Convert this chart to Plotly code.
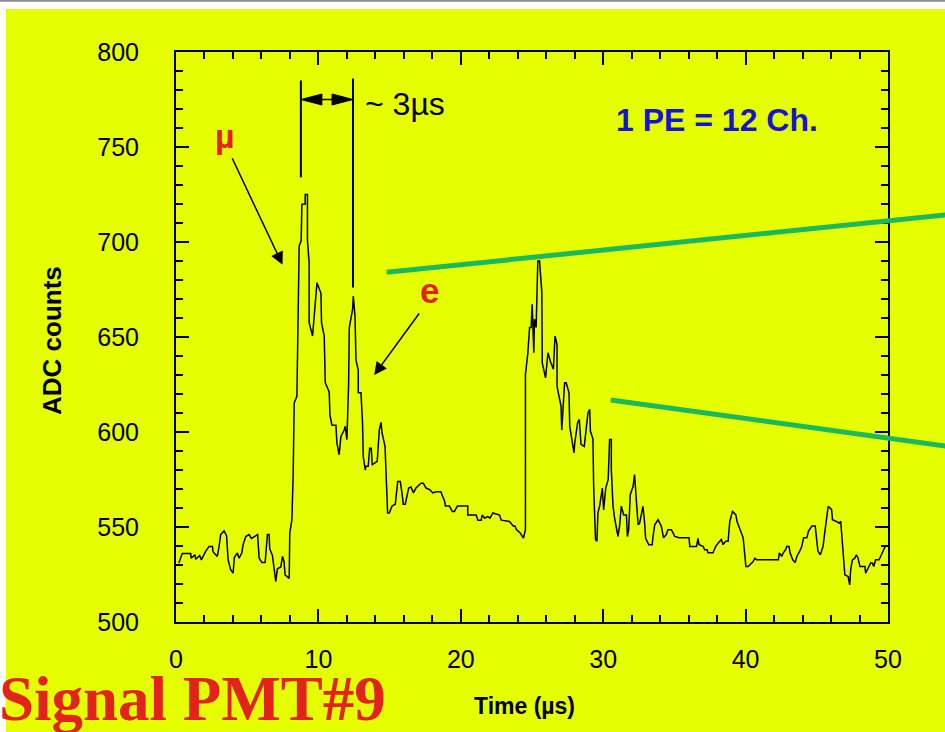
import plotly.graph_objects as go

# ---------------- data ----------------
time_us = [0.2, 0.44, 0.73, 1.03, 1.06, 1.34, 1.38, 1.66, 1.78, 1.9, 2.08, 2.32, 2.56, 2.6, 2.9, 3.0,
           3.14, 3.37, 3.55, 3.66, 3.84, 4.01, 4.1, 4.31, 4.43, 4.62, 4.71, 4.9, 5.13, 5.3, 5.56, 5.73,
           5.84, 6.03, 6.26, 6.36, 6.42, 6.54, 6.58, 6.77, 6.89, 7.01, 7.12, 7.36, 7.48, 7.59, 7.66, 7.95,
           7.99, 8.14, 8.23, 8.3, 8.49, 8.53, 8.61, 8.65, 8.79, 8.84, 9.07, 9.07, 9.23, 9.23, 9.35, 9.35,
           9.59, 9.66, 9.77, 9.9, 10.18, 10.22, 10.41, 10.48, 10.76, 10.81, 10.95, 11.23, 11.3, 11.46,
           11.58, 11.7, 11.81, 11.88, 12.0, 12.12, 12.17, 12.4, 12.45, 12.57, 12.64, 12.8, 12.8, 12.99,
           13.1, 13.15, 13.29, 13.34, 13.5, 13.6, 13.71, 13.78, 13.94, 14.13, 14.28, 14.4, 14.47, 14.68,
           14.86, 14.98, 15.17, 15.4, 15.57, 15.75, 15.87, 15.96, 16.1, 16.34, 16.5, 16.67, 16.85, 17.09,
           17.2, 17.37, 17.56, 17.84, 18.03, 18.26, 18.6, 18.73, 18.85, 18.92, 19.2, 19.4, 19.55, 19.76,
           20.49, 20.49, 21.08, 21.2, 21.43, 21.5, 21.67, 21.9, 22.05, 22.25, 22.72, 22.84, 23.42, 23.68,
           23.8, 23.91, 24.15, 24.4, 24.54, 24.54, 24.71, 24.83, 24.94, 25.01, 25.13, 25.17, 25.29, 25.41,
           25.53, 25.69, 25.72, 25.95, 26.12, 26.3, 26.5, 26.62, 26.76, 26.76, 27.04, 27.09, 27.29, 27.4,
           27.6, 27.65, 27.84, 27.95, 28.0, 28.2, 28.32, 28.44, 28.67, 28.79, 28.93, 29.05, 29.1, 29.28,
           29.33, 29.46, 29.56, 29.63, 29.75, 29.94, 30.03, 30.18, 30.35, 30.45, 30.57, 30.57, 30.69, 30.8,
           30.97, 31.04, 31.16, 31.27, 31.44, 31.63, 31.7, 31.79, 31.9, 32.1, 32.2, 32.33, 32.45, 32.56,
           32.79, 32.91, 32.98, 33.2, 33.44, 33.5, 33.62, 33.85, 34.08, 34.24, 34.43, 34.55, 34.78, 34.9,
           35.02, 35.33, 36.03, 36.08, 36.55, 36.66, 36.73, 37.01, 37.13, 37.3, 37.36, 37.71, 37.9, 38.07,
           38.3, 38.42, 38.6, 38.77, 38.89, 39.08, 39.31, 39.4, 39.59, 39.83, 40.02, 40.18, 40.53, 40.65,
           40.77, 42.3, 42.37, 42.53, 42.65, 42.82, 42.89, 43.05, 43.12, 43.31, 43.48, 43.6, 43.79, 43.95,
           44.07, 44.3, 44.42, 44.66, 44.89, 44.96, 45.08, 45.25, 45.44, 45.6, 45.72, 45.8, 46.04, 46.1,
           46.38, 46.57, 46.68, 46.79, 46.97, 47.2, 47.31, 47.38, 47.5, 47.67, 47.78, 47.9, 48.03, 48.38,
           48.43, 48.66, 48.78, 48.9, 49.0, 49.13, 49.37, 49.48, 49.8, 49.86]

adc_counts = [531, 536, 536, 536, 533.6, 535.4, 533, 535, 532.7, 534.5, 537.2, 539.8, 539.8, 537, 534.5, 538.6,
              546, 548, 545.5, 532.7, 527.5, 525.7, 534, 536.3, 533.6, 536.3, 540.6, 545, 546, 544, 545, 546,
              533.6, 531.3, 531.3, 538.6, 546, 546, 538.6, 535, 528, 521.3, 528, 529, 534.5, 531.6, 524.8, 523,
              546.8, 553.8, 578.4, 615.3, 618.8, 647, 668, 697.9, 700.6, 719.9, 720, 725, 725, 701, 689, 657.5,
              650.5, 657.5, 666, 678.6, 673, 657.5, 650.5, 626, 621, 609, 603.6, 603.6, 594.3, 588,
              597.7, 599.5, 601, 603, 596, 624.6, 655, 664.5, 671.6, 661, 638, 632.5, 620.6, 620.6,
              604.8, 587, 580, 582, 582, 591.4, 591.4, 582.8, 583.6, 584.5, 601.3, 605, 599.5, 592.4,
              557.4, 557.4, 561, 562, 574, 574, 568, 562, 562, 570.5, 571, 568, 570.5, 572.3,
              573, 573, 570.5, 569.6, 567.9, 568.5, 568.5, 566, 564, 561, 561, 558.2, 558.2, 561,
              561, 556.3, 556.3, 553.6, 553.6, 556.3, 554.7, 555.5, 554.7, 557.4, 556.3, 553.6, 552.9, 550.5,
              550.5, 548.6, 547, 544.2, 548.6, 630.3, 641.7, 655, 655, 667.2, 641.7, 659.4, 655, 690,
              690, 673.5, 636.4, 628.5, 641.7, 637, 633, 650.5, 646, 624, 613.5, 601, 625.9, 625.9,
              620.6, 603, 592.4, 589, 594, 604.8, 606.6, 593.5, 592.4, 599.5, 610, 612, 600.5, 596.3,
              571.4, 543.3, 542.5, 557.5, 561, 570.5, 559, 570.5, 575, 596, 596, 580.2, 561, 554.7,
              546.9, 545, 551.2, 561, 556.3, 556.3, 545, 548.6, 567, 571.4, 577.6, 562.6, 551.2, 552,
              560.9, 552, 544, 540.7, 540.7, 545, 551.2, 553.8, 550.5, 544.3, 546, 548.6, 548.6, 547,
              545, 544.3, 544.3, 539.8, 539.8, 544, 540.7, 539.8, 538, 538, 536.4, 536.4, 539.8, 541.5,
              543.4, 540.7, 542.5, 542.5, 552.9, 558.2, 556.5, 552.9, 549.4, 544.3, 529.2, 529.2, 531.8, 533.6,
              532.7, 532.7, 536.4, 534.5, 536.4, 538.2, 539.8, 539.8, 536.4, 532.7, 531.3, 534.5, 537.2, 539.8,
              544.3, 544.3, 547.9, 550.5, 550.5, 544.3, 537.2, 535.4, 539.8, 549.4, 556.5, 560.9, 559.1, 553.8,
              552.9, 552, 553, 540.7, 524.8, 523.9, 519.5, 527.5, 532.7, 533.6, 535.4, 533.6, 529.2, 529.2,
              525.7, 529.2, 531, 531, 529.2, 532.7, 532.7, 534.5, 539.8, 539.8]

x_ticks = [0, 10, 20, 30, 40, 50]
y_ticks = [500, 550, 600, 650, 700, 750, 800]

# annotation anchors (data units)
mu_arrow_tip = (7.48, 688)
e_arrow_tip = (13.92, 630)
marker_left_x, marker_right_x = 8.77, 12.43
marker_left_y = (734, 785)
marker_right_y = (676, 786)
marker_arrow_y = 775

# ---------------- layout constants ----------------
W, H = 945, 732
ML, MR, MT, MB = 176, 57, 52, 110
PW, PH = W - ML - MR, H - MT - MB
XR = (0, 50)
YR = (500, 800)
px_x = (XR[1] - XR[0]) / PW      # data units per pixel
px_y = (YR[1] - YR[0]) / PH

def pxp(px, py):
    """page pixel -> paper coords"""
    return (px - ML) / PW, (H - MB - py) / PH

YELLOW = '#E5FF00'
GREEN = '#1BB85C'
RED = '#E2231A'
BLUE = '#1414D2'
FONT = 'Liberation Sans, Arial, sans-serif'

fig = go.Figure()
fig.add_trace(go.Scatter(x=time_us, y=adc_counts, mode='lines',
                         line=dict(color='black', width=1.5), hoverinfo='skip', showlegend=False))

shapes = []
# page background pieces
x0, y0 = pxp(6, 9)
x1, y1 = pxp(W + 5, H + 5)
shapes.append(dict(type='rect', xref='paper', yref='paper', x0=x0, x1=x1, y0=y1, y1=y0,
                   fillcolor=YELLOW, line=dict(width=0), layer='below'))
gx0, gy = pxp(-5, 0.8)
gx1, _ = pxp(W + 5, 0)
shapes.append(dict(type='line', xref='paper', yref='paper', x0=gx0, x1=gx1, y0=gy, y1=gy,
                   line=dict(color='#8C8C8C', width=2), layer='below'))

# green pointer lines (run off the page to the right)
for (ax_, ay_), (bx_, by_) in [((386.7, 272.3), (950, 214.5)), ((610.7, 400), (950, 446.7))]:
    p0 = pxp(ax_, ay_)
    p1 = pxp(bx_, by_)
    shapes.append(dict(type='line', xref='paper', yref='paper', x0=p0[0], y0=p0[1], x1=p1[0], y1=p1[1],
                       line=dict(color=GREEN, width=5)))

# ~3 us marker: vertical bars
shapes.append(dict(type='line', xref='x', yref='y', x0=marker_left_x, x1=marker_left_x,
                   y0=marker_left_y[0], y1=marker_left_y[1], line=dict(color='black', width=2)))
shapes.append(dict(type='line', xref='x', yref='y', x0=marker_right_x, x1=marker_right_x,
                   y0=marker_right_y[0], y1=marker_right_y[1], line=dict(color='black', width=2)))
# double arrow
head_len = 21 * px_x
head_half = 5.5 * px_y
shapes.append(dict(type='line', xref='x', yref='y', x0=marker_left_x + head_len, x1=marker_right_x - head_len,
                   y0=marker_arrow_y, y1=marker_arrow_y, line=dict(color='black', width=1.5)))
for tip, sgn in [(marker_left_x, 1), (marker_right_x, -1)]:
    b = tip + sgn * head_len
    path = (f'M {tip} {marker_arrow_y} L {b} {marker_arrow_y + head_half} '
            f'L {b} {marker_arrow_y - head_half} Z')
    shapes.append(dict(type='path', xref='x', yref='y', path=path, fillcolor='black',
                       line=dict(color='black', width=1)))

annotations = []
# arrows for mu and e
annotations.append(dict(x=mu_arrow_tip[0], y=mu_arrow_tip[1], xref='x', yref='y', text='',
                        showarrow=True, ax=-51, ay=-108, arrowhead=2, arrowsize=1.7,
                        arrowwidth=1.5, arrowcolor='black'))
annotations.append(dict(x=e_arrow_tip[0], y=e_arrow_tip[1], xref='x', yref='y', text='',
                        showarrow=True, ax=46, ay=-63, arrowhead=2, arrowsize=1.7,
                        arrowwidth=1.5, arrowcolor='black'))

def txt(text, px, py, size, color='black', bold=False, family=FONT, xanchor='center', angle=0):
    xp, yp = pxp(px, py)
    t = f'<b>{text}</b>' if bold else text
    annotations.append(dict(text=t, x=xp, y=yp, xref='paper', yref='paper', showarrow=False,
                            xanchor=xanchor, yanchor='middle', textangle=angle,
                            font=dict(family=family, size=size, color=color)))

txt('µ', 225, 136, 34, RED, bold=True)
txt('e', 429.5, 290, 35, RED, bold=True)
txt('~ 3µs', 363, 104.5, 32, xanchor='left')
txt('1 PE = 12 Ch.', 717, 120, 32, BLUE, bold=True)
txt('ADC counts', 52, 341, 26, bold=True, angle=-90)
txt('Time (µs)', 524, 706, 23, bold=True)
txt('Signal PMT#9', -3, 699, 63, RED, bold=True, family='Liberation Serif, Times New Roman, serif',
    xanchor='left')

axis_common = dict(showline=True, linecolor='black', linewidth=2, mirror='ticks', ticks='inside',
                   ticklen=13, tickwidth=2, tickcolor='black', showgrid=False, zeroline=False,
                   tickfont=dict(family=FONT, size=25, color='black'))

fig.update_layout(
    width=W, height=H,
    margin=dict(l=ML, r=MR, t=MT, b=MB, pad=0),
    paper_bgcolor='white', plot_bgcolor=YELLOW,
    shapes=shapes, annotations=annotations,
    xaxis=dict(range=list(XR), tickvals=x_ticks, ticktext=[str(v) for v in x_ticks],
               minor=dict(dtick=2, tick0=0, ticks='inside', ticklen=7, tickwidth=2, tickcolor='black'),
               ticklabelstandoff=14, **axis_common),
    yaxis=dict(range=list(YR), tickvals=y_ticks, ticktext=[str(v) for v in y_ticks],
               minor=dict(dtick=10, tick0=500, ticks='inside', ticklen=7, tickwidth=2, tickcolor='black'),
               ticklabelstandoff=30, **axis_common),
)

fig.write_html('out.html', config={'displayModeBar': False},
               post_script="document.body.style.margin='0';document.body.style.overflow='hidden';")
